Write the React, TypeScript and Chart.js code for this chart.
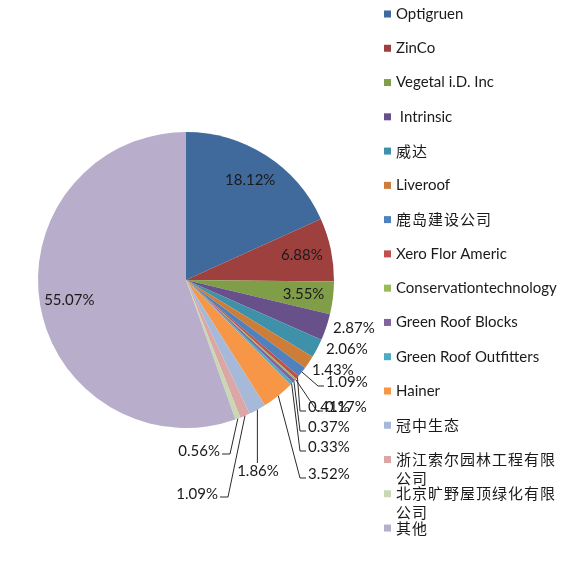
import React, { useEffect, useRef } from 'react';
import { Chart, registerables } from 'chart.js';

Chart.register(...registerables);

const categories = [
  'Optigruen',
  'ZinCo',
  'Vegetal i.D. Inc',
  ' Intrinsic',
  '威达',
  'Liveroof',
  '鹿岛建设公司',
  'Xero Flor Americ',
  'Conservationtechnology',
  'Green Roof Blocks',
  'Green Roof Outfitters',
  'Hainer',
  '冠中生态',
  '浙江索尔园林工程有限公司',
  '北京旷野屋顶绿化有限公司',
  '其他',
];

const shares = [18.12, 6.88, 3.55, 2.87, 2.06, 1.43, 1.09, 0.41, 0.17, 0.37, 0.33, 3.52, 1.86, 1.09, 0.56, 55.07];

const sliceColors = [
  '#40699C', '#9E413E', '#809E48', '#68518A', '#3E91A8', '#CE7D38',
  '#4F81BD', '#C0504D', '#9BBB59', '#8064A2', '#4BACC6', '#F79646',
  '#A7B9D8', '#DBA7A6', '#C8D8B2', '#B8ADCA',
];

// where each percentage label sits (offsets from the pie centre, px)
const labelSpots: any[] = [
  { mode: 'in' },
  { mode: 'in' },
  { mode: 'in' },
  { mode: 'right', dx: 147, dy: 48 },
  { mode: 'right', dx: 140, dy: 69 },
  { mode: 'right', dx: 126, dy: 90 },
  { mode: 'right', dx: 140, dy: 102, leader: true },
  { mode: 'right', dx: 122, dy: 127, leader: true },
  { mode: 'right', dx: 139, dy: 127, leader: true },
  { mode: 'right', dx: 122, dy: 147, leader: true },
  { mode: 'right', dx: 122, dy: 167, leader: true },
  { mode: 'right', dx: 122, dy: 194, leader: true },
  { mode: 'below', dx: 72, dy: 191 },
  { mode: 'left', dx: 32, dy: 214 },
  { mode: 'left', dx: 34, dy: 171 },
  { mode: 'in' },
];

const TEXT = '#1a1a1a';
const LABEL_FONT = '15px Lato, "Noto Sans CJK SC", sans-serif';
const CJK_FONT = '15px "Noto Sans CJK SC", Lato, sans-serif';
const isCJK = (s: string) => /[\u4e00-\u9fff]/.test(s);

const pieExtras = {
  id: 'pieExtras',
  afterDraw(chart: any) {
    const ctx = chart.ctx as CanvasRenderingContext2D;
    const meta = chart.getDatasetMeta(0);
    const values = chart.data.datasets[0].data as number[];

    ctx.save();
    ctx.font = LABEL_FONT;
    ctx.fillStyle = TEXT;
    ctx.strokeStyle = '#2a2a2a';
    ctx.lineWidth = 1;
    ctx.textBaseline = 'middle';

    meta.data.forEach((arc: any, i: number) => {
      const { x, y, startAngle, endAngle, outerRadius } = arc.getProps(
        ['x', 'y', 'startAngle', 'endAngle', 'outerRadius'],
        true
      );
      const mid = (startAngle + endAngle) / 2;
      const ex = x + Math.cos(mid) * outerRadius;
      const ey = y + Math.sin(mid) * outerRadius;
      const text = values[i].toFixed(2) + '%';
      const spot = labelSpots[i];

      if (spot.mode === 'in') {
        ctx.textAlign = 'center';
        ctx.fillText(text, x + Math.cos(mid) * outerRadius * 0.8, y + Math.sin(mid) * outerRadius * 0.8);
        return;
      }
      const lx = x + spot.dx;
      const ly = y + spot.dy;
      ctx.beginPath();
      if (spot.mode === 'right') {
        if (spot.leader) {
          ctx.moveTo(ex, ey);
          ctx.lineTo(lx - 8, ly + 4);
          ctx.lineTo(lx - 2, ly + 4);
          ctx.stroke();
        }
        ctx.textAlign = 'left';
        ctx.fillText(text, lx, ly);
      } else if (spot.mode === 'left') {
        ctx.moveTo(ex, ey);
        ctx.lineTo(lx + 10, ly + 3);
        ctx.lineTo(lx + 2, ly + 3);
        ctx.stroke();
        ctx.textAlign = 'right';
        ctx.fillText(text, lx, ly);
      } else {
        ctx.moveTo(ex, ey);
        ctx.lineTo(ex, ly - 8);
        ctx.stroke();
        ctx.textAlign = 'center';
        ctx.fillText(text, lx, ly);
      }
    });

    // legend on the right
    const boxX = 384;
    const textX = 396;
    const maxW = 166;
    const top = 14;
    const step = 34.27;
    ctx.textAlign = 'left';
    chart.data.labels.forEach((label: string, i: number) => {
      const cy = top + i * step;
      ctx.fillStyle = sliceColors[i];
      ctx.fillRect(boxX, cy - 3.5, 7, 7);
      ctx.fillStyle = TEXT;
      if (isCJK(label)) {
        ctx.font = CJK_FONT;
        (ctx as any).letterSpacing = '1px';
      } else {
        ctx.font = LABEL_FONT;
        (ctx as any).letterSpacing = '0px';
      }
      const lines: string[] = [];
      let cur = '';
      for (const ch of label) {
        if (cur && ctx.measureText(cur + ch).width > maxW) {
          lines.push(cur);
          cur = ch;
        } else cur += ch;
      }
      lines.push(cur);
      lines.forEach((ln, k) => ctx.fillText(ln, textX, cy + k * 19));
    });
    (ctx as any).letterSpacing = '0px';
    ctx.restore();
  },
};

const App: React.FC = () => {
  const chartRef = useRef<HTMLCanvasElement>(null);

  useEffect(() => {
    if (!chartRef.current) return;

    const chart = new Chart(chartRef.current, {
      type: 'pie',
      data: {
        labels: categories,
        datasets: [
          {
            data: shares,
            backgroundColor: sliceColors,
            borderWidth: 0,
          },
        ],
      },
      options: {
        responsive: true,
        maintainAspectRatio: false,
        animation: false,
        layout: { padding: { left: 38, top: 132, right: 235, bottom: 133 } },
        plugins: {
          legend: { display: false },
          tooltip: { enabled: false },
        },
      },
      plugins: [pieExtras],
    });

    return () => chart.destroy();
  }, []);

  return (
    <div style={{ position: 'absolute', left: 0, top: 0, width: 569, height: 561, background: '#fff' }}>
      <canvas ref={chartRef}></canvas>
    </div>
  );
};

export default App;
